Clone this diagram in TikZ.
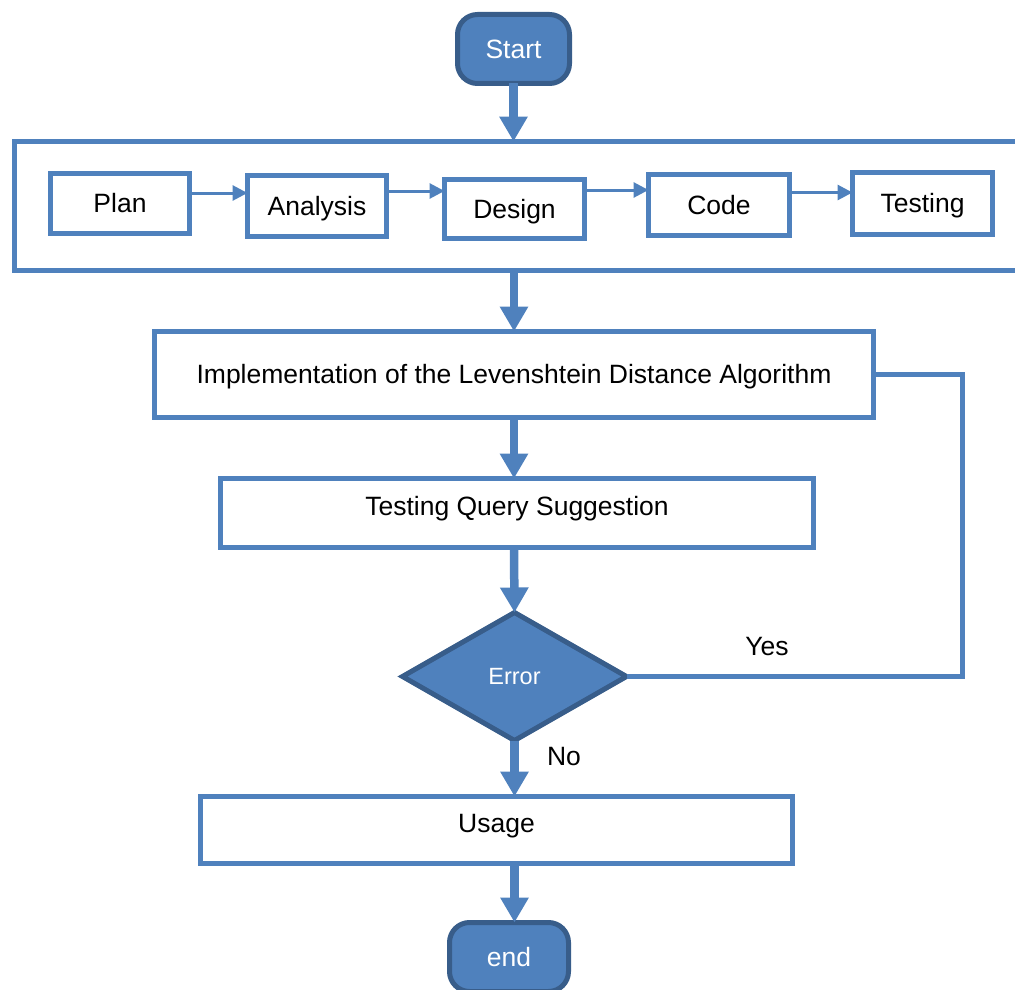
\documentclass[tikz,border=0pt]{standalone}
\usepackage{fontspec}
\setmainfont{Liberation Sans}
\usetikzlibrary{arrows.meta,shapes.geometric,calc}

\definecolor{flowblue}{HTML}{4F81BD}
\definecolor{flowdark}{HTML}{385D8A}

\tikzset{
  every node/.style={font=\fontsize{26.5}{30}\selectfont, inner sep=0pt, outer sep=0pt,
    text height=24pt, text depth=5.6pt},
  box/.style={draw=flowblue, line width=5pt, fill=white, rectangle},
  raised/.style={text depth=19.6pt},
  terminal/.style={draw=flowdark, line width=5pt, fill=flowblue, rectangle,
    rounded corners=20pt, text=white, minimum width=112pt, minimum height=69pt},
  decision/.style={draw=flowdark, line width=5pt, fill=flowblue, diamond,
    text=white, minimum width=224pt, minimum height=128pt,
    font=\fontsize{23.5}{27}\selectfont, text height=21.3pt, text depth=5pt},
  bigarrow/.style={draw=flowblue, line width=8.5pt,
    -{Triangle[width=27pt,length=25pt]}},
  smallarrow/.style={draw=flowblue, line width=3pt,
    -{Triangle[width=15pt,length=15pt]}},
  loopline/.style={draw=flowblue, line width=5pt},
}

\begin{document}
\begin{tikzpicture}[x=1pt, y=-1pt]
  \useasboundingbox (0,0) rectangle (1015,990);
  \clip (0,0) rectangle (1015,990);

  % start terminal
  \node[terminal] (start) at (513.5,49) {Start};

  % development cycle frame (runs past the right edge)
  \node[box, fill=none, minimum width=1040pt, minimum height=129pt] (sdlc) at (534.5,206) {};

  % phases inside the frame
  \node[box, minimum width=139pt, minimum height=60pt] (plan)     at (120,203.5) {Plan};
  \node[box, minimum width=139pt, minimum height=61pt] (analysis) at (317,206)   {Analysis};
  \node[box, minimum width=140pt, minimum height=59pt] (design)   at (514.5,209) {Design};
  \node[box, minimum width=141pt, minimum height=61pt] (code)     at (719,205)   {Code};
  \node[box, minimum width=140pt, minimum height=62pt] (testing)  at (922.5,203.5) {Testing};

  \draw[smallarrow] ([yshift=10.5pt]plan.east) -- ([yshift=10.5pt]plan.east -| analysis.west);
  \draw[smallarrow] ([yshift=15pt]analysis.east) -- ([yshift=15pt]analysis.east -| design.west);
  \draw[smallarrow] ([yshift=19pt]design.east) -- ([yshift=19pt]design.east -| code.west);
  \draw[smallarrow] ([yshift=12.5pt]code.east) -- ([yshift=12.5pt]code.east -| testing.west);

  % main flow
  \node[box, minimum width=719pt, minimum height=86pt] (impl) at (514,374.5)
    {Implementation of the Levenshtein Distance Algorithm};
  \node[box, raised, minimum width=593pt, minimum height=69pt] (tqs) at (517,513)
    {Testing Query Suggestion};
  \node[decision] (error) at (514.5,676.5) {Error};
  \node[box, raised, minimum width=592pt, minimum height=67pt] (usage) at (496.5,830) {Usage};
  \node[terminal, minimum width=119pt] (end) at (509,957) {end};

  \draw[bigarrow] (start.south) -- (start.south |- sdlc.north);
  \draw[bigarrow] (impl.north |- sdlc.south) -- (impl.north);
  \draw[bigarrow] (impl.south) -- (impl.south |- tqs.north);
  \draw[bigarrow] (impl.south |- tqs.south) -- (error.north);
  \draw[bigarrow] (error.south) -- (error.south |- usage.north);
  \draw[bigarrow] (error.south |- usage.south) -- (error.south |- end.north);

  % "Yes" loop back to the implementation step
  \coordinate (loopx) at (962,0);
  \draw[loopline] (error.east) -- (error.east -| loopx) -- (loopx |- impl.east) -- (impl.east);

  \node (yes) at (767,646) {Yes};
  \node (no)  at (564,756) {No};
\end{tikzpicture}
\end{document}
